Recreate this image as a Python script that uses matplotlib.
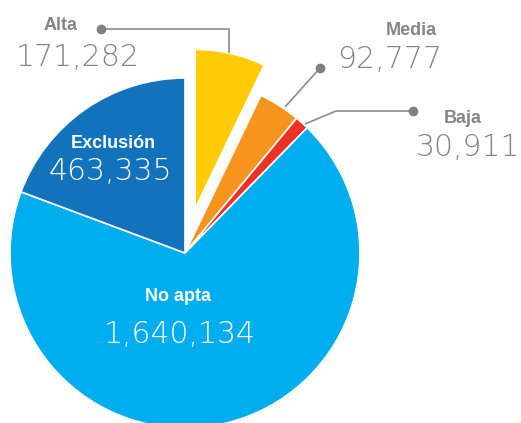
import matplotlib.pyplot as plt

# datos
categorias = ['Alta', 'Media', 'Baja', 'No apta', 'Exclusión']
valores = [171282, 92777, 30911, 1640134, 463335]
colores = ['#FFCB05', '#F7941E', '#EE3124', '#00AEEF', '#1272BB']
etiquetas_num = ['{:,}'.format(v) for v in valores]

W, H = 521, 423
cx, cy, R = 185, 253, 175   # centro y radio en pixeles


def px(x, y):
    # pixel (origen arriba-izq) -> coords de datos
    return (x - cx) / R, (cy - y) / R


fig = plt.figure(figsize=(W / 100, H / 100), dpi=100)
ax = fig.add_axes([0, 0, 1, 1])

wedges, _ = ax.pie(valores, colors=colores, startangle=90, counterclock=False,
                   explode=[0.26, 0, 0, 0, 0],
                   wedgeprops=dict(edgecolor='white', linewidth=1.2))
wedges[0].set_radius(0.91)

ax.set_xlim(-cx / R, (W - cx) / R)
ax.set_ylim(-(H - cy) / R, cy / R)
ax.set_aspect('equal')
ax.axis('off')

gris = '#858585'
linea = '#8c8c8c'
fnum = dict(family=['DejaVu Sans'], weight=200, fontsize=21.5)
flab = dict(family=['Liberation Sans', 'DejaVu Sans'], weight='bold', fontsize=13)

# textos fuera del pastel
ax.text(*px(61, 25), categorias[0], color=gris, ha='center', va='center', **flab)
ax.text(*px(78, 57), etiquetas_num[0], color=gris, ha='center', va='center', **fnum)
ax.text(*px(411, 30), categorias[1], color=gris, ha='center', va='center', **flab)
ax.text(*px(390, 59), etiquetas_num[1], color=gris, ha='center', va='center', **fnum)
ax.text(*px(463, 118), categorias[2], color=gris, ha='center', va='center', **flab)
ax.text(*px(468, 147), etiquetas_num[2], color=gris, ha='center', va='center', **fnum)

# textos dentro
ax.text(*px(113, 143), categorias[4], color='white', ha='center', va='center', **flab)
ax.text(*px(110, 171), etiquetas_num[4], color='white', ha='center', va='center', **fnum)
ax.text(*px(178, 296), categorias[3], color='white', ha='center', va='center', **flab)
ax.text(*px(180, 334), etiquetas_num[3], color='white', ha='center', va='center', **fnum)

# lineas guia
def guia(puntos):
    xs, ys = zip(*[px(x, y) for x, y in puntos])
    ax.plot(xs, ys, color=linea, lw=1.2, solid_capstyle='butt')
    ax.plot(xs[0], ys[0], 'o', color='#808080', ms=6)

guia([(101, 29), (229, 29), (229, 53)])
guia([(320, 68), (285, 107)])
guia([(413, 111), (336, 111), (305, 124)])

fig.savefig('out.png', dpi=100)
